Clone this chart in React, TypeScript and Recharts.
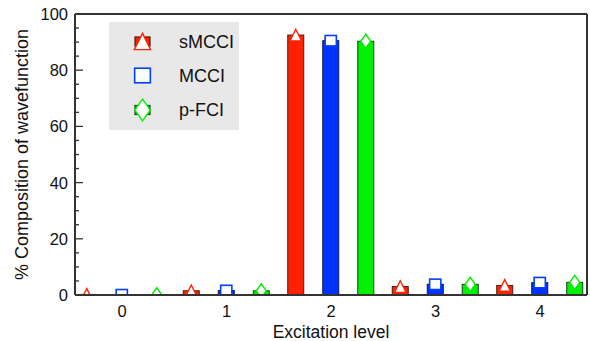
import React from 'react';
import { BarChart, Bar, XAxis, YAxis, ReferenceLine } from 'recharts';

const levels = [0, 1, 2, 3, 4];
const smcci = [0.2, 1.5, 92.5, 3.0, 3.4];
const mcci = [0.1, 1.6, 90.5, 3.8, 4.4];
const pfci = [0.1, 1.5, 90.3, 3.8, 4.5];
const yTicks = [0, 5, 10, 15, 20, 25, 30, 35, 40, 45, 50, 55, 60, 65, 70, 75, 80, 85, 90, 95, 100];
const xTicks = [0, 1, 2, 3, 4];
const seriesNames = ['sMCCI', 'MCCI', 'p-FCI'];

const data = levels.map((x, i) => ({ x, smcci: smcci[i], mcci: mcci[i], pfci: pfci[i] }));

const FONT = '"Liberation Sans", Arial, Helvetica, sans-serif';
const AX = '#333';

type MarkerFn = (cx: number, cy: number, color: string, s?: number) => React.ReactNode;

const triangle: MarkerFn = (cx, cy, color, s = 1) => (
  <polygon
    points={`${cx},${cy - 5.8 * s} ${cx + 5.8 * s},${cy + 5.8 * s} ${cx - 5.8 * s},${cy + 5.8 * s}`}
    fill="#fff"
    stroke={color}
    strokeWidth={1.4}
    strokeLinejoin="miter"
  />
);
const square: MarkerFn = (cx, cy, color, s = 1) => (
  <rect x={cx - 5.6 * s} y={cy - 5.2 * s} width={11.2 * s} height={10.4 * s} fill="#fff" stroke={color} strokeWidth={1.6} />
);
const diamond: MarkerFn = (cx, cy, color, s = 1) => (
  <polygon
    points={`${cx},${cy - 7 * s} ${cx + 5 * s},${cy} ${cx},${cy + 7 * s} ${cx - 5 * s},${cy}`}
    fill="#fff"
    stroke={color}
    strokeWidth={1.4}
  />
);

const makeShape = (key: string, fill: string, edge: string, mcolor: string, marker: MarkerFn) => (props: any) => {
  const { x, y, width, height, index } = props;
  const base = y + height;
  const id = `clip-${key}-${index}`;
  return (
    <g>
      <rect x={x} y={y} width={width} height={height} fill={fill} stroke={edge} strokeWidth={1} />
      <clipPath id={id}>
        <rect x={x - 20} y={y - 40} width={width + 40} height={base - (y - 40)} />
      </clipPath>
      <g clipPath={`url(#${id})`}>{marker(x + width / 2, y, mcolor)}</g>
    </g>
  );
};

const redShape = makeShape('s', '#ff2200', '#4a1a10', '#ff2200', triangle);
const blueShape = makeShape('m', '#0033ff', '#101a40', '#0040ff', square);
const greenShape = makeShape('p', '#00f000', '#1a401a', '#00ee00', diamond);

const YTick = (props: any) => {
  const { x, y, payload } = props;
  const v = payload.value;
  const major = v % 20 === 0;
  return (
    <g>
      <line x1={x} x2={x + (major ? 8 : 4)} y1={y} y2={y} stroke={AX} strokeWidth={1.3} />
      {major && (
        <text x={x - 7} y={y} dy="0.36em" textAnchor="end" fontFamily={FONT} fontSize={16.5} fill="#111">
          {v}
        </text>
      )}
    </g>
  );
};

const XTick = (props: any) => {
  const { x, y, payload } = props;
  return (
    <text x={x} y={y} dy="0.71em" textAnchor="middle" fontFamily={FONT} fontSize={16.5} fill="#111">
      {payload.value}
    </text>
  );
};

const YTitle = () => (
  <text
    transform="translate(22,154.5) rotate(-90)"
    textAnchor="middle"
    dominantBaseline="central"
    fontFamily={FONT}
    fontSize={18}
    fill="#111"
  >
    % Composition of wavefunction
  </text>
);

const XTitle = () => (
  <text x={331} y={338} textAnchor="middle" fontFamily={FONT} fontSize={17.5} fill="#111">
    Excitation level
  </text>
);

const legendRows = [
  { name: seriesNames[0], color: '#ff2200', fill: '#ff2200', edge: '#4a1a10', cy: 41.5 },
  { name: seriesNames[1], color: '#0040ff', fill: '#0033ff', edge: '#101a40', cy: 75.5 },
  { name: seriesNames[2], color: '#00ee00', fill: '#00f000', edge: '#1a401a', cy: 110 },
];

const LegendBox = () => (
  <svg width={590} height={341} style={{ position: 'absolute', left: 0, top: 0, pointerEvents: 'none' }}>
    <rect x={109} y={22} width={130} height={108} fill="#e8e8e8" />
    {legendRows.map((r, i) => (
      <g key={r.name}>
        <rect x={135} y={r.cy - 4.5} width={15} height={9} fill={r.fill} stroke={r.edge} strokeWidth={1.2} />
        {i === 0 && triangle(142.5, r.cy, r.color, 1.4)}
        {i === 1 && square(142.5, r.cy, r.color, 1.4)}
        {i === 2 && diamond(142.5, r.cy, r.color, 1.55)}
        <text x={179} y={r.cy} dy="0.36em" fontFamily={FONT} fontSize={18} fill="#111">
          {r.name}
        </text>
      </g>
    ))}
  </svg>
);

export default function App() {
  return (
    <div style={{ position: 'absolute', left: 0, top: 0, width: 590, height: 341, background: '#fff' }}>
      <BarChart
        width={590}
        height={341}
        data={data}
        margin={{ top: 14, right: 3, bottom: 0, left: 0 }}
        barSize={16}
        barGap={19}
      >
        <XAxis
          dataKey="x"
          type="number"
          domain={[-0.45, 4.45]}
          ticks={xTicks}
          allowDataOverflow
          height={46}
          tickLine={false}
          tickSize={0}
          tickMargin={10}
          axisLine={{ stroke: AX, strokeWidth: 2 }}
          tick={<XTick />}
          label={<XTitle />}
          interval={0}
        />
        <YAxis
          type="number"
          domain={[0, 100]}
          ticks={yTicks}
          width={75}
          interval={0}
          tickLine={false}
          tickSize={0}
          tickMargin={0}
          axisLine={{ stroke: AX, strokeWidth: 2 }}
          tick={<YTick />}
          label={<YTitle />}
        />
        <ReferenceLine y={100} stroke={AX} strokeWidth={2} />
        <ReferenceLine x={4.45} stroke={AX} strokeWidth={2} />
        <Bar dataKey="smcci" name={seriesNames[0]} isAnimationActive={false} shape={redShape} />
        <Bar dataKey="mcci" name={seriesNames[1]} isAnimationActive={false} shape={blueShape} />
        <Bar dataKey="pfci" name={seriesNames[2]} isAnimationActive={false} shape={greenShape} />
      </BarChart>
      <LegendBox />
    </div>
  );
}
